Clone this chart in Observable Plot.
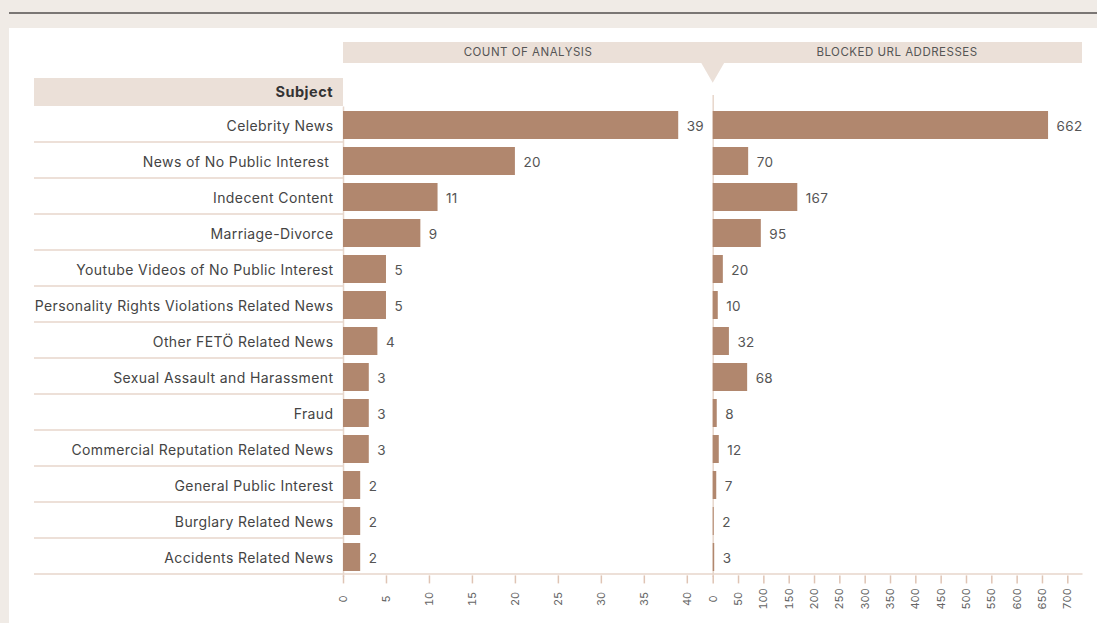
<!DOCTYPE html>
<html>
<head>
<meta charset="utf-8">
<script src="https://cdn.jsdelivr.net/npm/d3@7"></script>
<script src="https://cdn.jsdelivr.net/npm/@observablehq/plot@0.6"></script>
<style>
  html, body { margin: 0; padding: 0; }
  body { width: 1097px; height: 623px; background: #f0ebe6; position: relative; overflow: hidden; font-family: Inter, "Open Sans", sans-serif; }
  .topline { position: absolute; left: 9px; right: 0; top: 12px; height: 1.5px; background: #7a7674; }
  .panel { position: absolute; left: 9px; right: 0; top: 28px; bottom: 0; background: #fff; }
  .band { position: absolute; background: #ebe0d8; }
  .hdr { position: absolute; top: 42px; height: 21px; line-height: 21px; font-size: 11.5px; color: #555; text-align: center; letter-spacing: 0.5px; font-weight: 400; }
  .subject { position: absolute; left: 34px; top: 78px; width: 309px; height: 28px; background: #ebe0d8; }
  .subject span { position: absolute; right: 10px; top: 0; line-height: 28px; font-size: 14.5px; font-weight: 700; color: #333; letter-spacing: 0.5px; }
  .chart { position: absolute; top: 0; }
  .chart svg { overflow: visible; }
  .chart g[aria-label="y-axis tick label"] text { letter-spacing: 0.4px; }
  .chart g[aria-label="text"] text { letter-spacing: 0.3px; }
  svg.tri { position: absolute; left: 0; top: 0; }
</style>
</head>
<body>
<div class="topline"></div>
<div class="panel"></div>
<div class="band" style="left:343px; top:42px; width:739px; height:21px;"></div>
<svg class="tri" width="1097" height="100"><polygon points="701,62.5 724.4,62.5 712.7,82.7" fill="#ebe0d8"/></svg>
<div class="hdr" style="left:343px; width:370px;" id="h1"></div>
<div class="hdr" style="left:712px; width:370px;" id="h2"></div>
<div class="subject"><span id="subj"></span></div>
<div class="chart" id="left" style="left:0px;"></div>
<div class="chart" id="right" style="left:700px;"></div>
<script>
// ---- data ----
const subjects = [
  "Celebrity News",
  "News of No Public Interest\u00a0",
  "Indecent Content",
  "Marriage-Divorce",
  "Youtube Videos of No Public Interest",
  "Personality Rights Violations Related News",
  "Other FETÖ Related News",
  "Sexual Assault and Harassment",
  "Fraud",
  "Commercial Reputation Related News",
  "General Public Interest",
  "Burglary Related News",
  "Accidents Related News"
];
const analysisCounts = [39, 20, 11, 9, 5, 5, 4, 3, 3, 3, 2, 2, 2];
const blockedUrls = [662, 70, 167, 95, 20, 10, 32, 68, 8, 12, 7, 2, 3];
const countTicks = [0, 5, 10, 15, 20, 25, 30, 35, 40];
const urlTicks = [0, 50, 100, 150, 200, 250, 300, 350, 400, 450, 500, 550, 600, 650, 700];
const headerLeft = "COUNT OF ANALYSIS";
const headerRight = "BLOCKED URL ADDRESSES";
const subjectHeader = "Subject";

document.getElementById("h1").textContent = headerLeft;
document.getElementById("h2").textContent = headerRight;
document.getElementById("subj").textContent = subjectHeader;

const rows = subjects.map((s, i) => ({subject: s, count: analysisCounts[i], urls: blockedUrls[i]}));
const last = subjects[subjects.length - 1];

const barColor = "#b1876e";
const sepColor = "#e7d6cb";
const tickColor = "#dfc4b4";
const font = "Inter, 'Open Sans', sans-serif";
const H = 623, MT = 106.4, MB = 46.1;
const rowDy = 16.6;
const yScale = {domain: subjects, paddingInner: 0.21, paddingOuter: 0.105};

const left = Plot.plot({
  width: 705, height: H,
  marginLeft: 343, marginRight: 1, marginTop: MT, marginBottom: MB,
  style: {fontFamily: font, background: "transparent", overflow: "visible"},
  x: {domain: [0, 42]},
  y: yScale,
  marks: [
    Plot.ruleY(subjects.slice(0, -1), {dy: rowDy, stroke: sepColor, strokeWidth: 1.5, insetLeft: -309, insetRight: 361}),
    Plot.ruleX([0], {stroke: sepColor, strokeWidth: 1.5}),
    Plot.ruleY([last], {dy: rowDy, stroke: sepColor, strokeWidth: 1.5, insetLeft: -309, insetRight: -9}),
    Plot.barX(rows, {x: "count", y: "subject", fill: barColor}),
    Plot.text(rows, {x: "count", y: "subject", text: d => String(d.count), dx: 8, dy: 1, textAnchor: "start", fontSize: 13.5, fill: "#555"}),
    Plot.axisY({tickSize: 0, tickPadding: 10, fontSize: 14, fill: "#444", label: null, dy: 1.5}),
    Plot.axisX({ticks: countTicks, tickSize: 8, tickRotate: -90, textAnchor: "middle", tickPadding: 15, stroke: tickColor, strokeWidth: 1.5, fill: "#666", fontSize: 11, label: null, dy: -1.5})
  ]
});
document.getElementById("left").append(left);

const right = Plot.plot({
  width: 397, height: H,
  marginLeft: 12.7, marginRight: 14.5, marginTop: MT, marginBottom: MB,
  style: {fontFamily: font, background: "transparent", overflow: "visible"},
  x: {domain: [0, 730]},
  y: {...yScale, axis: null},
  marks: [
    Plot.ruleX([0], {stroke: sepColor, strokeWidth: 1.5, insetTop: -11.4}),
    Plot.ruleY([last], {dy: rowDy, stroke: sepColor, strokeWidth: 1.5}),
    Plot.barX(rows, {x: "urls", y: "subject", fill: barColor}),
    Plot.text(rows, {x: "urls", y: "subject", text: d => String(d.urls), dx: 8, dy: 1, textAnchor: "start", fontSize: 13.5, fill: "#555"}),
    Plot.axisX({ticks: urlTicks, tickSize: 8, tickRotate: -90, textAnchor: "middle", tickPadding: 15, stroke: tickColor, strokeWidth: 1.5, fill: "#666", fontSize: 11, label: null, dy: -1.5})
  ]
});
document.getElementById("right").append(right);
</script>
</body>
</html>
